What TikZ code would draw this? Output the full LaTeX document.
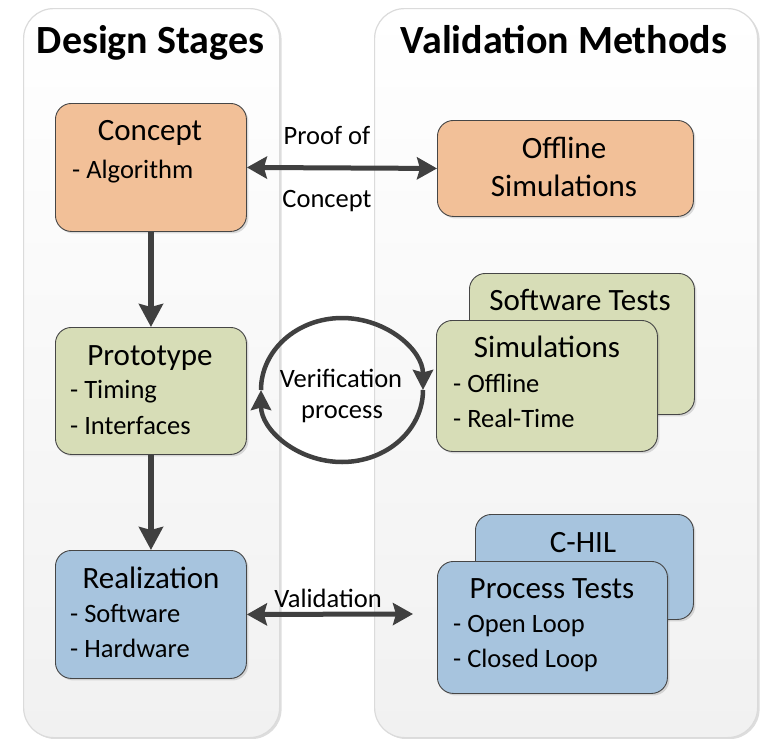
\documentclass[tikz,border=0pt]{standalone}
\usepackage{fontspec}
\setmainfont{Carlito}
\usetikzlibrary{arrows.meta,shadows,calc}

\definecolor{conceptfill}{RGB}{242,192,152}
\definecolor{protofill}{RGB}{215,221,183}
\definecolor{realfill}{RGB}{167,196,222}
\definecolor{boxedge}{RGB}{70,70,70}
\definecolor{arrowgray}{RGB}{64,64,64}

\begin{document}
\begin{tikzpicture}[x=1pt,y=-1pt,
  panel/.style={draw=gray!28, line width=1.2pt, rounded corners=30pt,
    top color=white, bottom color=gray!11, anchor=north west, inner sep=0pt,
    drop shadow={shadow xshift=2pt, shadow yshift=-1.5pt, opacity=0.22, fill=black!60}},
  box/.style={draw=boxedge, line width=0.9pt, rounded corners=16pt,
    anchor=north west, inner sep=0pt,
    drop shadow={shadow xshift=2pt, shadow yshift=-2pt, opacity=0.22, fill=black!60}},
  ptitle/.style={font=\fontsize{40}{48}\selectfont\bfseries, anchor=base, inner sep=0pt},
  head/.style={font=\fontsize{31}{37}\selectfont, anchor=base, inner sep=0pt},
  item/.style={font=\fontsize{26.5}{32}\selectfont, anchor=base west, inner sep=0pt},
  lbl/.style={font=\fontsize{26.5}{32}\selectfont, anchor=base, inner sep=0pt},
  flow/.style={draw=arrowgray, line width=6.5pt,
    -{Stealth[length=23pt,width=24pt,inset=3pt]}},
  link/.style={draw=arrowgray, line width=5pt,
    {Stealth[length=20pt,width=22pt,inset=3pt]}-{Stealth[length=20pt,width=22pt,inset=3pt]}},
  cyc/.style={draw=arrowgray, line width=4.5pt,
    -{Stealth[length=20pt,width=20pt,inset=2.5pt]}}
]
\useasboundingbox (0,0) rectangle (761,739);

% column panels
\node[panel, minimum width=256pt, minimum height=729pt] (leftcol) at (23,8) {};
\node[panel, minimum width=383pt, minimum height=729pt] (rightcol) at (374,8) {};
\node[ptitle] (ltitle) at (150.5,53) {Design Stages};
\node[ptitle] (rtitle) at (564,53) {Validation Methods};

% design stages
\node[box, fill=conceptfill, minimum width=191pt, minimum height=128pt] (concept) at (55,103) {};
\node[box, fill=protofill, minimum width=191pt, minimum height=127pt] (proto) at (55,327) {};
\node[box, fill=realfill, minimum width=191pt, minimum height=128pt] (real) at (55,550) {};

\node[head] (tconcept) at (150,140) {Concept};
\node[item] (talgo) at (72,178) {- Algorithm};
\node[head] (tproto) at (150,365) {Prototype};
\node[item] (ttiming) at (70,398) {- Timing};
\node[item] (tiface) at (70,434) {- Interfaces};
\node[head] (treal) at (151,588) {Realization};
\node[item] (tsw) at (70,622) {- Software};
\node[item] (thw) at (70,657) {- Hardware};

% validation methods
\node[box, fill=conceptfill, minimum width=256pt, minimum height=96pt] (offline) at (437,120) {};
\node[head] (toff1) at (564,158) {Offline};
\node[head] (toff2) at (564,196) {Simulations};

\node[box, fill=protofill, minimum width=225pt, minimum height=141pt] (swtest) at (469,273) {};
\node[head] (tswtest) at (580,310) {Software Tests};
\node[box, fill=protofill, minimum width=221pt, minimum height=131pt] (sims) at (436,320) {};
\node[head] (tsims) at (547,357) {Simulations};
\node[item] (tsoff) at (453,392) {- Offline};
\node[item] (tsrt) at (453,427) {- Real-Time};

\node[box, fill=realfill, minimum width=218pt, minimum height=105pt] (chil) at (475,514) {};
\node[head] (tchil) at (583,552) {C-HIL};
\node[box, fill=realfill, minimum width=230pt, minimum height=132pt] (proc) at (437,561) {};
\node[head] (tproc) at (552,598) {Process Tests};
\node[item] (topen) at (453,632) {- Open Loop};
\node[item] (tclosed) at (453,667) {- Closed Loop};

% flow between stages
\draw[flow] (concept.south) -- (proto.north);
\draw[flow] (proto.south) -- (real.north);

% proof of concept
\draw[link] (concept.east) -- (offline.west);
\node[lbl] (lproof) at (327,144) {Proof of};
\node[lbl] (lconcept) at (327,207) {Concept};

% validation
\coordinate (valend) at (413,614);
\draw[link] (real.east) -- (valend);
\node[lbl] (lval) at (328,607) {Validation};

% verification loop
\coordinate (vc) at (342,390);
\draw[cyc] ($(vc)+(-81,0)$) arc[start angle=180, end angle=360, x radius=81, y radius=72];
\draw[cyc] ($(vc)+(81,0)$) arc[start angle=0, end angle=180, x radius=81, y radius=72];
\node[lbl] (lver) at (341,387) {Verification};
\node[lbl] (lproc) at (342,418) {process};
\end{tikzpicture}
\end{document}
